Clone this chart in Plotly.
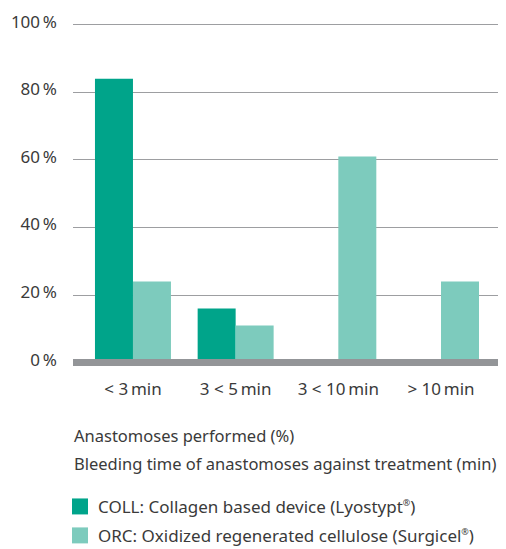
import plotly.graph_objects as go

categories = ["< 3\u2009min", "3 < 5\u2009min", "3 < 10\u2009min", "> 10\u2009min"]
coll_values = [84, 16, 0, 0]
orc_values = [24, 11, 61, 24]
y_tick_values = [0, 20, 40, 60, 80, 100]
y_tick_labels = ["0\u2009%", "20\u2009%", "40\u2009%", "60\u2009%", "80\u2009%", "100\u2009%"]
series_names = ["COLL: Collagen based device (Lyostypt<sup><span style='font-size:9px'>®</span></sup>)",
                "ORC: Oxidized regenerated cellulose (Surgicel<sup><span style='font-size:9px'>®</span></sup>)"]
y_label = "Anastomoses performed (%)"
x_label = "Bleeding time of anastomoses against treatment (min)"

COLL_COLOR = "#00a48a"
ORC_COLOR = "#7dcbbd"
TEXT_COLOR = "#3a3a3a"
FONT = "Noto Sans"

# page body has an 8px margin: figure coordinates are page coordinates minus 8
OFF = 8
W, H = 498, 541
ML, MR, MT, MB = 73 - OFF, 4, 23 - OFF, 549 - 367.4
PW, PH = W - ML - MR, H - MT - MB


def px_x(x):
    return (x - OFF - ML) / PW


def px_y(y):
    return (H - MB - (y - OFF)) / PH


fig = go.Figure()
fig.add_trace(go.Bar(x=categories, y=coll_values, marker_color=COLL_COLOR,
                     marker_line_width=0, showlegend=False, name="COLL"))
fig.add_trace(go.Bar(x=categories, y=orc_values, marker_color=ORC_COLOR,
                     marker_line_width=0, showlegend=False, name="ORC"))

# zero baseline band
fig.add_shape(type="line", xref="paper", yref="y", x0=0, x1=1, y0=0, y1=0,
              line=dict(color="#939598", width=7), layer="above")

# axis descriptions
fig.add_annotation(text=y_label, xref="paper", yref="paper", x=px_x(72), y=px_y(436),
                   xanchor="left", yanchor="middle", showarrow=False,
                   font=dict(size=16.5, color=TEXT_COLOR, family=FONT))
fig.add_annotation(text=x_label, xref="paper", yref="paper", x=px_x(72), y=px_y(464),
                   xanchor="left", yanchor="middle", showarrow=False,
                   font=dict(size=16.5, color=TEXT_COLOR, family=FONT))

# legend (squares + labels)
legend_rows = [507, 536]
for nm, col, yc in zip(series_names, [COLL_COLOR, ORC_COLOR], legend_rows):
    fig.add_shape(type="rect", xref="paper", yref="paper",
                  x0=px_x(72), x1=px_x(88), y0=px_y(yc + 8), y1=px_y(yc - 8),
                  fillcolor=col, line=dict(width=0))
    fig.add_annotation(text=nm, xref="paper", yref="paper", x=px_x(96), y=px_y(yc),
                       xanchor="left", yanchor="middle", showarrow=False,
                       font=dict(size=17, color=TEXT_COLOR, family=FONT))

fig.update_layout(
    width=W, height=H,
    margin=dict(l=ML, r=MR, t=MT, b=MB, pad=0),
    paper_bgcolor="white", plot_bgcolor="white",
    barmode="group", bargap=0.26, bargroupgap=0,
    font=dict(family=FONT, color=TEXT_COLOR, size=17),
    showlegend=False,
    xaxis=dict(range=[-0.584, 3.594], showgrid=False, showline=False,
               ticks="", tickfont=dict(size=17), zeroline=False,
               automargin=False, ticklabelstandoff=10),
    yaxis=dict(range=[-1.3, 100.5], tickvals=y_tick_values, ticktext=y_tick_labels,
               showgrid=True, gridcolor="#9d9ea1", gridwidth=1, zeroline=False,
               showline=False, ticks="", tickfont=dict(size=17),
               ticklabelstandoff=15, ticklabelshift=-3, automargin=False),
)

fig.write_html("out.html")
